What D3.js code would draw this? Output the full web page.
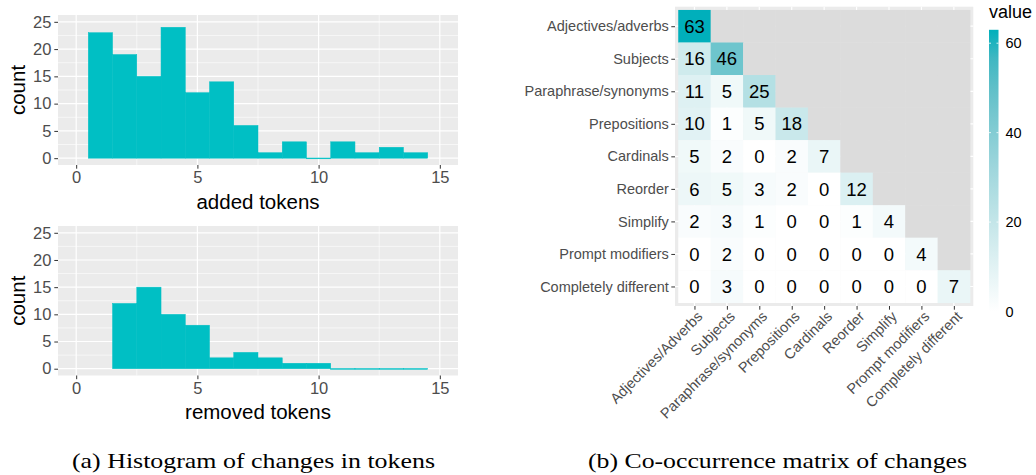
<!DOCTYPE html>
<html>
<head>
<meta charset="utf-8">
<script src="https://cdnjs.cloudflare.com/ajax/libs/d3/7.8.5/d3.min.js"></script>
<style>
  body { margin: 0; background: #fff; }
  svg text { font-family: "Liberation Sans", Arial, sans-serif; }
</style>
</head>
<body>
<div class="chart"></div>
<script>
// histogram data: bins of width 1 centred on the token count
const addedBins = [1, 2, 3, 4, 5, 6, 7, 8, 9, 10, 11, 12, 13, 14];
const addedCounts = [23, 19, 15, 24, 12, 14, 6, 1, 3, 0, 3, 1, 2, 1];
const removedBins = [2, 3, 4, 5, 6, 7, 8, 9, 10, 11, 12, 13, 14];
const removedCounts = [12, 15, 10, 8, 2, 3, 2, 1, 1, 0, 0, 0, 0];
const histXTicks = [0, 5, 10, 15];
const histYTicks = [0, 5, 10, 15, 20, 25];

// co-occurrence matrix (lower triangle, row by row)
const rowLabels = ['Adjectives/adverbs', 'Subjects', 'Paraphrase/synonyms', 'Prepositions',
  'Cardinals', 'Reorder', 'Simplify', 'Prompt modifiers', 'Completely different'];
const colLabels = ['Adjectives/Adverbs', 'Subjects', 'Paraphrase/synonyms', 'Prepositions',
  'Cardinals', 'Reorder', 'Simplify', 'Prompt modifiers', 'Completely different'];
const matrixRows = [
  [63],
  [16, 46],
  [11, 5, 25],
  [10, 1, 5, 18],
  [5, 2, 0, 2, 7],
  [6, 5, 3, 2, 0, 12],
  [2, 3, 1, 0, 0, 1, 4],
  [0, 2, 0, 0, 0, 0, 0, 4],
  [0, 3, 0, 0, 0, 0, 0, 0, 7]
];
const legendTicks = [0, 20, 40, 60];
const captions = ['(a) Histogram of changes in tokens', '(b) Co-occurrence matrix of changes'];

const W = 1036, H = 475;
const barColor = '#00BFC4';
const panelBg = '#EBEBEB';
const axisGrey = '#4D4D4D';

let svg = d3.select('.chart')
  .append('svg')
  .attr('width', W)
  .attr('height', H);

// ---------- histograms ----------
function drawHistogram(top, bottom, bins, counts, title) {
  let x = d3.scaleLinear().domain([-0.75, 15.75]).range([58, 458]);
  let y = d3.scaleLinear().domain([-1.25, 26.25]).range([bottom, top]);
  let g = svg.append('g');

  g.append('rect')
    .attr('x', 58).attr('y', top)
    .attr('width', 400).attr('height', bottom - top)
    .style('fill', panelBg);

  // minor grid
  g.selectAll('.minx').data([2.5, 7.5, 12.5]).enter().append('line')
    .attr('x1', d => x(d)).attr('x2', d => x(d))
    .attr('y1', top).attr('y2', bottom)
    .style('stroke', '#fff').style('stroke-width', 0.6);
  g.selectAll('.miny').data([2.5, 7.5, 12.5, 17.5, 22.5]).enter().append('line')
    .attr('x1', 58).attr('x2', 458)
    .attr('y1', d => y(d)).attr('y2', d => y(d))
    .style('stroke', '#fff').style('stroke-width', 0.6);
  // major grid
  g.selectAll('.majx').data(histXTicks).enter().append('line')
    .attr('x1', d => x(d)).attr('x2', d => x(d))
    .attr('y1', top).attr('y2', bottom)
    .style('stroke', '#fff').style('stroke-width', 1.2);
  g.selectAll('.majy').data(histYTicks).enter().append('line')
    .attr('x1', 58).attr('x2', 458)
    .attr('y1', d => y(d)).attr('y2', d => y(d))
    .style('stroke', '#fff').style('stroke-width', 1.2);

  // bars (empty bins still show as a thin line, like the original)
  g.selectAll('.bar').data(bins).enter().append('rect')
    .attr('x', d => x(d - 0.5))
    .attr('width', d => x(d + 0.5) - x(d - 0.5))
    .attr('y', (d, i) => counts[i] > 0 ? y(counts[i]) : y(0) - 0.2)
    .attr('height', (d, i) => counts[i] > 0 ? y(0) - y(counts[i]) : 0.8)
    .style('fill', barColor)
    .style('stroke', barColor)
    .style('stroke-width', 0.5);

  // axes
  let xAxis = d3.axisBottom(x).tickValues(histXTicks).tickSize(3.7).tickPadding(3);
  let ax = g.append('g').attr('transform', `translate(0, ${bottom})`).call(xAxis);
  let yAxis = d3.axisLeft(y).tickValues(histYTicks).tickSize(3.7).tickPadding(3);
  let ay = g.append('g').attr('transform', 'translate(58, 0)').call(yAxis);
  [ax, ay].forEach(a => {
    a.select('.domain').remove();
    a.selectAll('line').style('stroke', '#333');
    a.selectAll('text').style('fill', axisGrey).style('font-size', '16.5px');
  });

  g.append('text')
    .attr('x', 258).attr('y', bottom + 43.5)
    .style('text-anchor', 'middle')
    .style('font-size', '20.5px')
    .style('fill', '#000')
    .text(title);

  g.append('text')
    .attr('transform', `translate(25, ${(top + bottom) / 2}) rotate(-90)`)
    .style('text-anchor', 'middle')
    .style('font-size', '20.5px')
    .style('fill', '#000')
    .text('count');
}

drawHistogram(15, 165, addedBins, addedCounts, 'added tokens');
drawHistogram(226, 375.5, removedBins, removedCounts, 'removed tokens');

// ---------- heatmap ----------
let hx = d3.scaleLinear().domain([0.4, 9.6]).range([675, 973.3]);
let hy = d3.scaleLinear().domain([0.4, 9.6]).range([6.7, 306]);
let color = d3.scaleLinear().domain([0, 63]).range(['#FFFFFF', '#00AFBB'])
  .interpolate(d3.interpolateLab);

let cells = [];
rowLabels.forEach((r, i) => {
  colLabels.forEach((c, j) => {
    cells.push({ row: i + 1, col: j + 1, value: j <= i ? matrixRows[i][j] : null });
  });
});

let hm = svg.append('g');
hm.append('rect')
  .attr('x', hx(0.4)).attr('y', hy(0.4))
  .attr('width', hx(9.6) - hx(0.4)).attr('height', hy(9.6) - hy(0.4))
  .style('fill', panelBg);
hm.selectAll('.gx').data(d3.range(1, 10)).enter().append('line')
  .attr('x1', d => hx(d)).attr('x2', d => hx(d))
  .attr('y1', hy(0.4)).attr('y2', hy(9.6))
  .style('stroke', '#fff').style('stroke-width', 1.2);
hm.selectAll('.gy').data(d3.range(1, 10)).enter().append('line')
  .attr('x1', hx(0.4)).attr('x2', hx(9.6))
  .attr('y1', d => hy(d)).attr('y2', d => hy(d))
  .style('stroke', '#fff').style('stroke-width', 1.2);

hm.selectAll('.tile').data(cells).enter().append('rect')
  .attr('x', d => hx(d.col - 0.5))
  .attr('y', d => hy(d.row - 0.5))
  .attr('width', hx(1.5) - hx(0.5) + 0.3)
  .attr('height', hy(1.5) - hy(0.5) + 0.3)
  .style('fill', d => d.value === null ? '#DCDCDC' : color(d.value));

hm.selectAll('.num').data(cells.filter(d => d.value !== null)).enter().append('text')
  .attr('x', d => hx(d.col))
  .attr('y', d => hy(d.row))
  .attr('dy', '0.36em')
  .style('text-anchor', 'middle')
  .style('font-size', '18.5px')
  .style('fill', '#000')
  .text(d => d.value);

// heatmap axes
let hyAxis = d3.axisLeft(hy).tickValues(d3.range(1, 10))
  .tickFormat(d => rowLabels[d - 1]).tickSize(3.7).tickPadding(2.5);
let hya = hm.append('g').attr('transform', `translate(${hx(0.4)}, 0)`).call(hyAxis);
let hxAxis = d3.axisBottom(hx).tickValues(d3.range(1, 10))
  .tickFormat(d => colLabels[d - 1]).tickSize(3.7);
let hxa = hm.append('g').attr('transform', `translate(0, ${hy(9.6)})`).call(hxAxis);
[hya, hxa].forEach(a => {
  a.select('.domain').remove();
  a.selectAll('line').style('stroke', '#333');
  a.selectAll('text').style('fill', axisGrey).style('font-size', '14.5px');
});
hxa.selectAll('text')
  .attr('y', null)
  .attr('transform', 'translate(1, 4) rotate(-45)')
  .attr('dy', '0.72em')
  .style('text-anchor', 'end');

// legend
let ly = d3.scaleLinear().domain([0, 63]).range([311.5, 29.8]);
let defs = svg.append('defs');
let grad = defs.append('linearGradient')
  .attr('id', 'legend-grad')
  .attr('x1', 0).attr('y1', 1).attr('x2', 0).attr('y2', 0);
grad.selectAll('stop').data(d3.range(0, 1.0001, 0.1)).enter().append('stop')
  .attr('offset', d => d)
  .attr('stop-color', d => color(d * 63));

let lg = svg.append('g');
lg.append('text')
  .attr('x', 989).attr('y', 17.5)
  .style('font-size', '18px')
  .style('fill', '#000')
  .text('value');
lg.append('rect')
  .attr('x', 989).attr('y', ly(63))
  .attr('width', 9.5).attr('height', ly(0) - ly(63))
  .style('fill', 'url(#legend-grad)');
legendTicks.forEach(t => {
  lg.append('line')
    .attr('x1', 989).attr('x2', 991)
    .attr('y1', ly(t)).attr('y2', ly(t))
    .style('stroke', '#fff').style('stroke-width', 0.8);
  lg.append('line')
    .attr('x1', 996.5).attr('x2', 998.5)
    .attr('y1', ly(t)).attr('y2', ly(t))
    .style('stroke', '#fff').style('stroke-width', 0.8);
});
lg.selectAll('.lt').data(legendTicks).enter().append('text')
  .attr('x', 1005.5)
  .attr('y', d => ly(d))
  .attr('dy', '0.36em')
  .style('font-size', '14.5px')
  .style('fill', '#000')
  .text(d => d);

// captions
let capX = [[72, 435], [588, 967]];
svg.selectAll('.caption').data(captions).enter().append('text')
  .attr('x', (d, i) => capX[i][0])
  .attr('y', 468)
  .attr('textLength', (d, i) => capX[i][1] - capX[i][0])
  .attr('lengthAdjust', 'spacingAndGlyphs')
  .style('font-family', '"Liberation Serif", "DejaVu Serif", serif')
  .style('font-size', '22px')
  .style('fill', '#000')
  .text(d => d);
</script>
</body>
</html>
